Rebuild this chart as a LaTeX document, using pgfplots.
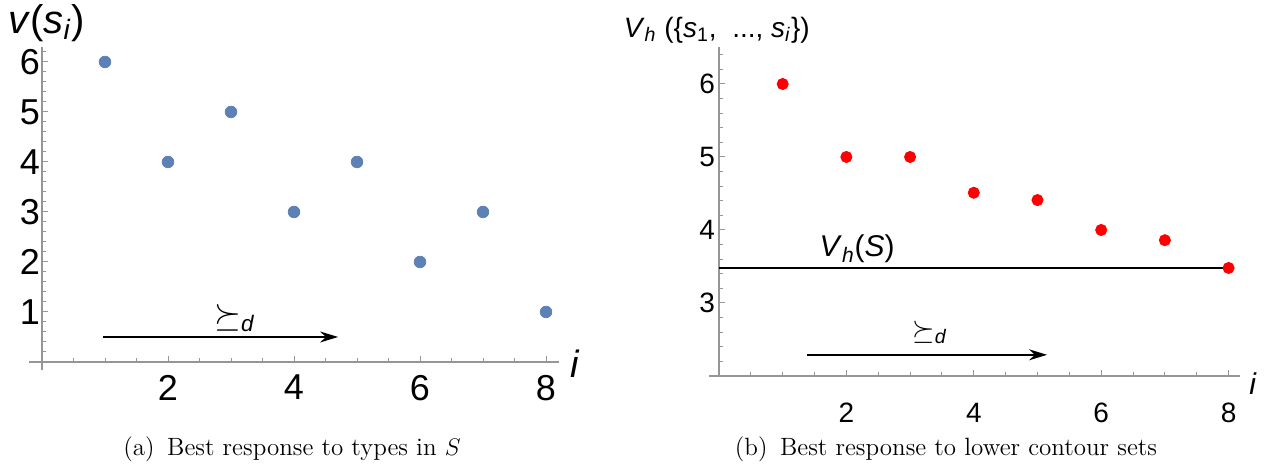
\documentclass[border=0pt]{standalone}
\usepackage{fontspec}
\usepackage{pgfplots}
\pgfplotsset{compat=1.18}
\usetikzlibrary{arrows.meta}
\newfontfamily\lsans{Liberation Sans}
\definecolor{mblue}{RGB}{94,129,181}
\definecolor{axgray}{RGB}{150,150,150}

\pgfplotsset{
  mma/.style={
    axis lines=middle,
    axis line style={axgray, line width=0.6pt, -},
    every inner x axis line/.append style={-},
    every inner y axis line/.append style={-},
    every outer x axis line/.append style={-},
    every outer y axis line/.append style={-},
    clip=false,
    tick align=inside,
    major tick length=3pt, minor tick length=1.8pt,
    tick style={axgray, line width=0.5pt},
    /pgf/number format/assume math mode=true,
  }
}

\begin{document}
\begin{tikzpicture}
\useasboundingbox (0,0) rectangle (635.5pt,234.5pt);

% (a) values of the types
\begin{axis}[mma,
  at={(14.7pt,49.5pt)}, anchor=south west,
  x=31.5pt, y=25pt,
  xmin=-0.2, xmax=8.2, ymin=-0.16, ymax=6.3,
  xtick={2,4,6,8}, ytick={1,2,3,4,5,6},
  minor xtick={0.5,1,1.5,2.5,3,3.5,4.5,5,5.5,6.5,7,7.5},
  minor ytick={0.2,0.4,0.6,0.8,1.2,1.4,1.6,1.8,2.2,2.4,2.6,2.8,3.2,3.4,3.6,3.8,4.2,4.4,4.6,4.8,5.2,5.4,5.6,5.8,6.2},
  ticklabel style={font=\lsans\fontsize{18}{18}\selectfont},
  xticklabel style={yshift=-3pt},
  yticklabel style={xshift=2.5pt},
]
\addplot[only marks, mark=*, mark size=2.9pt, mark options={mblue, draw=mblue}]
  coordinates {(1,6) (2,4) (3,5) (4,3) (5,4) (6,2) (7,3) (8,1)};
\draw[-{Stealth[length=9pt,width=5.5pt]}, line width=0.7pt]
  (axis cs:0.97,0.5) -- (axis cs:4.7,0.5);
\node[font=\lsans\fontsize{16}{16}\selectfont] at (axis cs:3.06,0.88) {$\succeq$\textsubscript{\textit{d}}};
\node[anchor=west, font=\lsans\fontsize{20}{20}\selectfont, inner sep=0pt] at (axis cs:-0.54,6.78)
  {\textit{v}(\textit{s}\textsubscript{\textit{i}})};
\node[font=\lsans\fontsize{19}{19}\selectfont\itshape] at (axis cs:8.46,-0.04) {i};
\end{axis}

% (b) values of the lower contour sets
\begin{axis}[mma,
  at={(354.4pt,46.5pt)}, anchor=south west,
  x=31.85pt, y=36.5pt,
  xmin=-0.16, xmax=8.18, ymin=2, ymax=6.5,
  xtick={2,4,6,8}, ytick={3,4,5,6},
  minor xtick={0.5,1,1.5,2.5,3,3.5,4.5,5,5.5,6.5,7,7.5},
  minor ytick={2.2,2.4,2.6,2.8,3.2,3.4,3.6,3.8,4.2,4.4,4.6,4.8,5.2,5.4,5.6,5.8,6.2,6.4},
  ticklabel style={font=\lsans\fontsize{14}{14}\selectfont},
  xticklabel style={yshift=-10pt},
  yticklabel style={xshift=1.5pt},
]
\addplot[black, line width=0.6pt] coordinates {(0,3.48) (8,3.48)};
\addplot[only marks, mark=*, mark size=2.8pt, mark options={red, draw=red}]
  coordinates {(1,6) (2,5) (3,5) (4,4.51) (5,4.41) (6,4.0) (7,3.86) (8,3.48)};
\draw[-{Stealth[length=9pt,width=5.5pt]}, line width=0.7pt]
  (axis cs:1.38,2.29) -- (axis cs:5.15,2.29);
\node[font=\lsans\fontsize{14}{14}\selectfont] at (axis cs:3.31,2.6) {$\succeq$\textsubscript{\textit{d}}};
\node[font=\lsans\fontsize{15}{15}\selectfont] at (axis cs:2.17,3.74)
  {\textit{V}\textsubscript{\textit{h}}(\textit{S})};
\node[anchor=east, font=\lsans\fontsize{14}{14}\selectfont, inner sep=0pt] at (axis cs:1.43,6.74)
  {\textit{V}\textsubscript{\textit{h}} (\{\textit{s}\textsubscript{1},\ \ ..., \textit{s}\textsubscript{\textit{i}}\})};
\node[font=\lsans\fontsize{15}{15}\selectfont\itshape] at (axis cs:8.38,1.9) {i};
\end{axis}

\node[font=\fontsize{12.5}{12.5}\selectfont] at (146pt,10pt) {(a)\enspace Best response to types in $S$};
\node[font=\fontsize{12.5}{12.5}\selectfont] at (473pt,10pt) {(b)\enspace Best response to lower contour sets};
\end{tikzpicture}
\end{document}
